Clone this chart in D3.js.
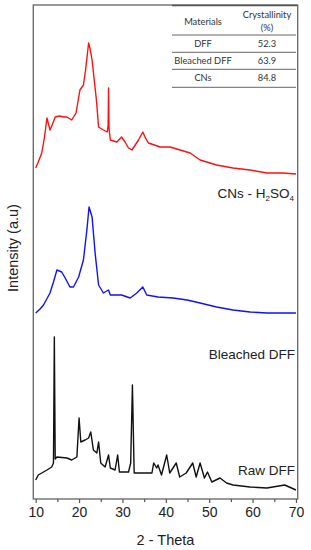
<!DOCTYPE html>
<html><head><meta charset="utf-8">
<script src="https://cdn.jsdelivr.net/npm/d3@7"></script>
<style>body{margin:0;background:#fff}svg{display:block}</style>
</head><body>
<svg id="c" width="311" height="550"></svg>
<script>
// 2-Theta positions and intensities (a.u., stacked with offsets)
const rawTheta = [10,10.6,12.6,13.7,14.1,14.3,14.5,14.9,17.2,18.3,19.5,20,20.4,21.4,22.2,22.7,23.3,24.1,24.5,25,26,26.8,27.2,28.3,28.9,29.3,31.4,31.9,32.3,32.7,36.8,37.2,37.9,38.2,39,40.2,40.9,42.4,43.2,44.7,46.2,47,47.9,48.9,49.6,50.6,52.5,54,55.5,59.4,63.3,67.4,70];
const rawIntensity = [19,24,29,32,36,162,40,42,41,39,42,81,57,59,61,67,49,46,57,36,32,44,31,29,44,27,27,36,114,26,26,36,31,34,24,44,26,36,22,26,36,22,36,21,27,17,21,16,14,12,11,14,9];

const bleachedTheta = [10,11,11.8,13.3,14.1,14.9,16,16.8,17.9,18.7,19.9,21,21.8,22.3,23,23.7,24.5,25.6,26.8,27.2,29.8,31.8,33.3,34.7,35.6,38.2,41.7,44.9,47.9,51.7,55.5,59.4,63.3,70];
const bleachedIntensity = [186,190,194,206,217,229,227,221,212,212,222,239,269,292,282,246,214,206,209,204,204,201,206,212,204,202,201,199,196,192,189,187,186,186];

const cnsTheta = [10,10.5,11.4,12,12.6,13.3,13.8,14.5,15.5,16.5,17.2,18.3,19.3,20.2,21,21.5,22.2,22.6,23,23.5,24,24.5,25.6,26.5,26.7,26.8,26.9,27.2,28.7,29.8,30.6,31.4,32.2,33.7,34.7,35.3,36,38.7,41,43.3,45.6,47.9,51.7,55.5,59.4,63.3,67,70];
const cnsIntensity = [331,336,346,361,381,369,374,382,383,382,382,379,386,409,414,429,456,449,439,419,399,372,369,367,374,411,371,359,357,362,357,351,349,359,367,361,356,352,352,349,346,339,334,331,329,326,326,325];

const xTicks = [10,20,30,40,50,60,70];
const xMinorTicks = [15,25,35,45,55,65];
const seriesNames = ["Raw DFF","Bleached DFF","CNs - H2SO4"];
const tableMaterials = ["DFF","Bleached DFF","CNs"];
const tableCrystallinity = ["52.3","63.9","84.8"];

const svg = d3.select("#c");
const L=33.3, R=297.7, T=5, B=499;
const x = d3.scaleLinear().domain([9.45,70.4]).range([L,R]);
const y = d3.scaleLinear().domain([0,494]).range([B,T]);

const line = d3.line().x(d=>x(d[0])).y(d=>y(d[1]));
const series = [
  {t:rawTheta, v:rawIntensity, c:"#111"},
  {t:bleachedTheta, v:bleachedIntensity, c:"#1010ff"},
  {t:cnsTheta, v:cnsIntensity, c:"#ff1010"}
];
series.forEach(s=>{
  svg.append("path").datum(d3.zip(s.t,s.v)).attr("d",line)
    .attr("fill","none").attr("stroke",s.c).attr("stroke-width",1.4).attr("stroke-linejoin","round");
});

// frame
svg.append("rect").attr("x",L).attr("y",T).attr("width",R-L).attr("height",B-T)
  .attr("fill","none").attr("stroke","#6e6e6e").attr("stroke-width",1.4);

// x axis
const font = "Liberation Sans, Arial, sans-serif";
const ax = svg.append("g").attr("transform",`translate(0,${B})`)
  .call(d3.axisBottom(x).tickValues(xTicks).tickSize(4).tickSizeOuter(0).tickPadding(4));
ax.select(".domain").remove();
ax.selectAll("line").attr("stroke","#555").attr("stroke-width",1.2);
ax.selectAll("text").attr("font-family",font).attr("font-size",14).attr("fill","#222");
const axm = svg.append("g").attr("transform",`translate(0,${B})`)
  .call(d3.axisBottom(x).tickValues(xMinorTicks).tickSize(3).tickFormat(""));
axm.select(".domain").remove();
axm.selectAll("line").attr("stroke","#555").attr("stroke-width",1.2);

svg.append("text").attr("x",(L+R)/2).attr("y",545).attr("text-anchor","middle")
  .attr("font-family",font).attr("font-size",14.5).attr("fill","#222").text("2 - Theta");
svg.append("text").attr("transform","translate(18,248) rotate(-90)").attr("text-anchor","middle")
  .attr("font-family",font).attr("font-size",14.5).attr("fill","#222").text("Intensity (a.u)");

// series labels
const lab = svg.append("g").attr("font-family",font).attr("font-size",13.5).attr("fill","#222").attr("text-anchor","end");
lab.append("text").attr("x",295).attr("y",475).text(seriesNames[0]);
lab.append("text").attr("x",295).attr("y",359).text(seriesNames[1]);
const cl = lab.append("text").attr("x",294).attr("y",198);
cl.append("tspan").text("CNs - H");
cl.append("tspan").attr("font-size",8).attr("dy",3).text("2");
cl.append("tspan").attr("dy",-3).text("SO");
cl.append("tspan").attr("font-size",8).attr("dy",3).text("4");

// table
const tf = "Lato, 'Open Sans', sans-serif";
const tg = svg.append("g").attr("font-family",tf).attr("font-size",9.3).attr("fill","#333").attr("text-anchor","middle");
const tl = 172, tr = 297, cx1 = 203, cx2 = 267;
tg.append("line").attr("x1",tl).attr("x2",tr).attr("y1",5.5).attr("y2",5.5).attr("stroke","#555").attr("stroke-width",1.6);
[35,52.3,69.3,87.3].forEach(yy=>tg.append("line").attr("x1",tl).attr("x2",tr-1).attr("y1",yy).attr("y2",yy).attr("stroke","#666").attr("stroke-width",1));
tg.append("text").attr("x",cx1).attr("y",25).text("Materials");
tg.append("text").attr("x",cx2).attr("y",18).text("Crystallinity");
tg.append("text").attr("x",cx2).attr("y",30.5).text("(%)");
const rowY = [47,64.3,81.3];
tableMaterials.forEach((m,i)=>{
  tg.append("text").attr("x",cx1).attr("y",rowY[i]).text(m);
  tg.append("text").attr("x",cx2).attr("y",rowY[i]).text(tableCrystallinity[i]);
});
</script>
</body></html>
